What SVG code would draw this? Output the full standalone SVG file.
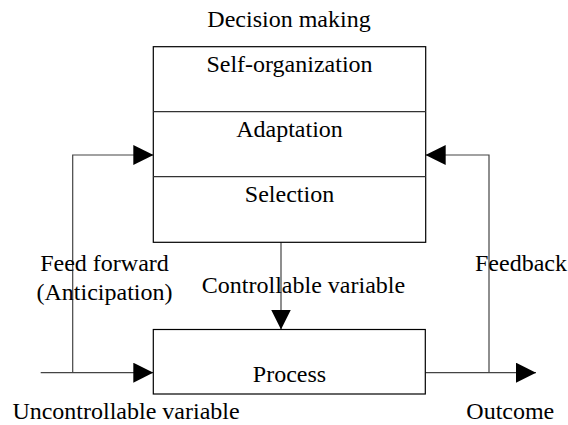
<svg xmlns="http://www.w3.org/2000/svg" width="568" height="425" viewBox="0 0 568 425">
<style>
.t{font-family:'Liberation Serif','Times New Roman',serif;font-size:24px;fill:#000;text-anchor:middle}
.box{fill:#fff;stroke:#000;stroke-width:1.2}
.div{stroke:#333;stroke-width:1.2}
.conn{fill:none;stroke:#444;stroke-width:1.2}
</style>
<defs>
<marker id="ah" markerUnits="userSpaceOnUse" markerWidth="20" markerHeight="20" refX="20" refY="10" orient="auto">
<path d="M0,0 L20,10 L0,20 z" fill="#000"/>
</marker>
</defs>
<rect width="568" height="425" fill="#fff"/>
<g id="connectors">
<path class="conn" d="M40.7,372.7 H153.3" marker-end="url(#ah)"/>
<path class="conn" d="M72.7,372.7 V155 H153.3" marker-end="url(#ah)"/>
<path class="conn" d="M425.3,372.7 H536" marker-end="url(#ah)"/>
<path class="conn" d="M489,372.7 V155 H425.7" marker-end="url(#ah)"/>
<path class="conn" d="M281,242.3 V329.5" marker-end="url(#ah)"/>
</g>
<g id="decision-making">
<text class="t" x="289" y="27">Decision making</text>
<rect class="box" x="153.3" y="46.7" width="272.4" height="195.6"/>
<line class="div" x1="153.3" y1="111.7" x2="425.7" y2="111.7"/>
<line class="div" x1="153.3" y1="176.7" x2="425.7" y2="176.7"/>
<text class="t" x="289.5" y="72.3">Self-organization</text>
<text class="t" x="289.5" y="137.3">Adaptation</text>
<text class="t" x="289.5" y="202.3">Selection</text>
</g>
<g id="process">
<rect class="box" x="153.3" y="329.5" width="272" height="64.5"/>
<text class="t" x="289.5" y="381.7">Process</text>
</g>
<g id="labels">
<text class="t" x="104.5" y="270.7">Feed forward</text>
<text class="t" x="104.5" y="300">(Anticipation)</text>
<text class="t" x="303.5" y="292.7">Controllable variable</text>
<text class="t" x="521" y="270.7">Feedback</text>
<text class="t" x="126" y="419.3">Uncontrollable variable</text>
<text class="t" x="510.3" y="419.3">Outcome</text>
</g>
</svg>
